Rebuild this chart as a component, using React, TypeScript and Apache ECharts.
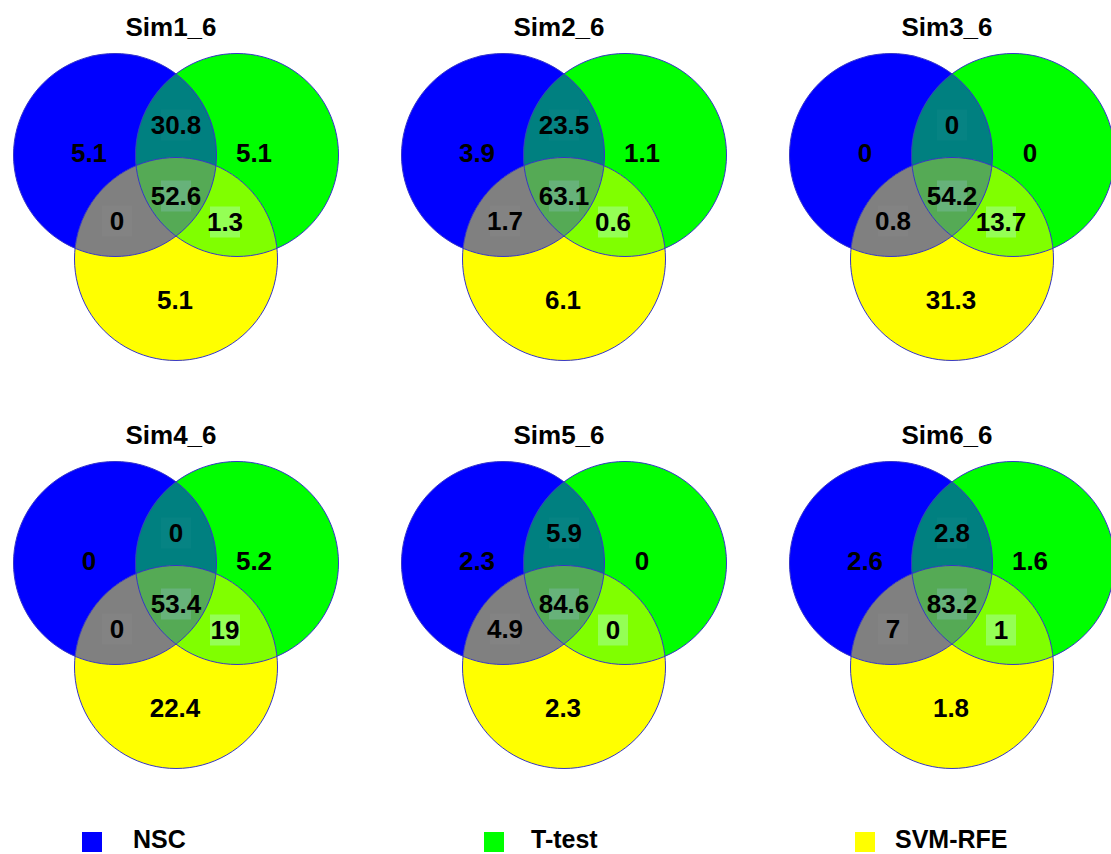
import React, { useEffect, useRef } from "react";
import * as echarts from "echarts";

// ---- data ----
const panelTitles = ["Sim1_6", "Sim2_6", "Sim3_6", "Sim4_6", "Sim5_6", "Sim6_6"];
const setNames = ["NSC", "T-test", "SVM-RFE"];
// percentages of each Venn region, one entry per panel
const nscOnly = [5.1, 3.9, 0, 0, 2.3, 2.6];
const nscTtest = [30.8, 23.5, 0, 0, 5.9, 2.8];
const ttestOnly = [5.1, 1.1, 0, 5.2, 0, 1.6];
const nscSvm = [0, 1.7, 0.8, 0, 4.9, 7];
const allThree = [52.6, 63.1, 54.2, 53.4, 84.6, 83.2];
const ttestSvm = [1.3, 0.6, 13.7, 19, 0, 1];
const svmOnly = [5.1, 6.1, 31.3, 22.4, 2.3, 1.8];

// ---- layout / style ----
const COL_X = [176, 564, 952];
const ROW_Y = [155, 563];
const R = 101.5;
const DX = 61;
const DY = 104;
const FONT = '"Liberation Sans", Arial, Helvetica, sans-serif';
const setColors = ["#0000ff", "#00ff00", "#ffff00"];
const C_BG = "#008080";
const C_BY = "#808080";
const C_GY = "#80ff00";
const C_ALL = "#55aa55";
const STROKE = "#3535c8";

type P = { x: number; y: number };

function intersections(a: P, b: P, r: number): [P, P] {
  const dx = b.x - a.x, dy = b.y - a.y;
  const d = Math.hypot(dx, dy);
  const th = Math.atan2(dy, dx);
  const al = Math.acos(d / (2 * r));
  return [
    { x: a.x + r * Math.cos(th - al), y: a.y + r * Math.sin(th - al) },
    { x: a.x + r * Math.cos(th + al), y: a.y + r * Math.sin(th + al) },
  ];
}

function lensPath(a: P, b: P, r: number) {
  const [p1, p2] = intersections(a, b, r);
  return `M${p1.x} ${p1.y}A${r} ${r} 0 0 1 ${p2.x} ${p2.y}A${r} ${r} 0 0 1 ${p1.x} ${p1.y}Z`;
}

function triplePath(cs: P[], r: number) {
  const trip = [
    [0, 1, 2],
    [1, 2, 0],
    [0, 2, 1],
  ];
  const verts = trip.map(([i, j, k]) => {
    const [p, q] = intersections(cs[i], cs[j], r);
    const dp = Math.hypot(p.x - cs[k].x, p.y - cs[k].y);
    const dq = Math.hypot(q.x - cs[k].x, q.y - cs[k].y);
    return dp < dq ? p : q;
  });
  const g = {
    x: (verts[0].x + verts[1].x + verts[2].x) / 3,
    y: (verts[0].y + verts[1].y + verts[2].y) / 3,
  };
  verts.sort(
    (u, v) => Math.atan2(u.y - g.y, u.x - g.x) - Math.atan2(v.y - g.y, v.x - g.x)
  );
  let d = `M${verts[0].x} ${verts[0].y}`;
  for (let n = 0; n < 3; n++) {
    const v = verts[(n + 1) % 3];
    d += `A${r} ${r} 0 0 1 ${v.x} ${v.y}`;
  }
  return d + "Z";
}

function txt(text: string, x: number, y: number, size: number) {
  return {
    type: "text",
    x,
    y,
    style: {
      text,
      fill: "#000",
      font: `bold ${size}px ${FONT}`,
      align: "center",
      verticalAlign: "middle",
      textAlign: "center",
      textVerticalAlign: "middle",
    },
  };
}

function box(x: number, y: number, fill: string) {
  return {
    type: "rect",
    shape: { x: x - 15, y: y - 15.5, width: 30, height: 31 },
    style: { fill },
  };
}

export default function App() {
  const ref = useRef<HTMLDivElement>(null);

  useEffect(() => {
    document.body.style.margin = "0";
    if (!ref.current) return;
    const chart = echarts.init(ref.current, null, { renderer: "svg" });

    const renderItem = (params: any) => {
      const i = params.dataIndex;
      const X = COL_X[i % 3];
      const Y = ROW_Y[Math.floor(i / 3)];
      const cs: P[] = [
        { x: X - DX, y: Y },
        { x: X + DX, y: Y },
        { x: X, y: Y + DY },
      ];
      const children: any[] = [];
      cs.forEach((c, k) =>
        children.push({
          type: "circle",
          shape: { cx: c.x, cy: c.y, r: R },
          style: { fill: setColors[k] },
        })
      );
      children.push({ type: "path", shape: { pathData: lensPath(cs[0], cs[1], R) }, style: { fill: C_BG } });
      children.push({ type: "path", shape: { pathData: lensPath(cs[0], cs[2], R) }, style: { fill: C_BY } });
      children.push({ type: "path", shape: { pathData: lensPath(cs[1], cs[2], R) }, style: { fill: C_GY } });
      children.push({ type: "path", shape: { pathData: triplePath(cs, R) }, style: { fill: C_ALL } });
      cs.forEach((c) =>
        children.push({
          type: "circle",
          shape: { cx: c.x, cy: c.y, r: R },
          style: { fill: "none", stroke: STROKE, lineWidth: 1 },
        })
      );
      // label positions
      const pos = {
        a: [X - 87, Y - 2],
        ab: [X, Y - 30],
        b: [X + 78, Y - 2],
        ac: [X - 59, Y + 66],
        abc: [X, Y + 41],
        bc: [X + 49, Y + 67],
        c: [X - 1, Y + 145],
      };
      children.push(box(pos.ab[0], pos.ab[1], "rgba(255,255,255,0.025)"));
      children.push(box(pos.ac[0], pos.ac[1], "rgba(255,255,255,0.025)"));
      children.push(box(pos.abc[0], pos.abc[1], "#67b27a"));
      children.push(box(pos.bc[0], pos.bc[1], "#94ff55"));
      const vals: [number[], number[]][] = [
        [nscOnly, pos.a],
        [nscTtest, pos.ab],
        [ttestOnly, pos.b],
        [nscSvm, pos.ac],
        [allThree, pos.abc],
        [ttestSvm, pos.bc],
        [svmOnly, pos.c],
      ];
      vals.forEach(([arr, p]) => children.push(txt(String(arr[i]), p[0], p[1], 26)));
      children.push(txt(panelTitles[i], X - 5, Y - 128, 26));
      return { type: "group", children };
    };

    const legendX = [82, 484, 855];
    const legendTextX = [133, 531, 895];
    const graphic: any[] = [];
    setNames.forEach((name, k) => {
      graphic.push({
        type: "rect",
        shape: { x: legendX[k], y: 832, width: 20, height: 20 },
        style: { fill: setColors[k] },
      });
      graphic.push({
        type: "text",
        x: legendTextX[k],
        y: 839,
        style: {
          text: name,
          fill: "#000",
          font: `bold 25px ${FONT}`,
          lineHeight: 20,
          align: "left",
          verticalAlign: "middle",
          textAlign: "left",
          textVerticalAlign: "middle",
        },
      });
    });

    chart.setOption({
      animation: false,
      backgroundColor: "#ffffff",
      graphic,
      series: [
        {
          type: "custom",
          coordinateSystem: "none",
          silent: true,
          data: panelTitles.map((_, i) => [i]),
          renderItem,
        },
      ],
    });
    return () => chart.dispose();
  }, []);

  return <div ref={ref} style={{ width: 1111, height: 854, overflow: "hidden" }} />;
}
